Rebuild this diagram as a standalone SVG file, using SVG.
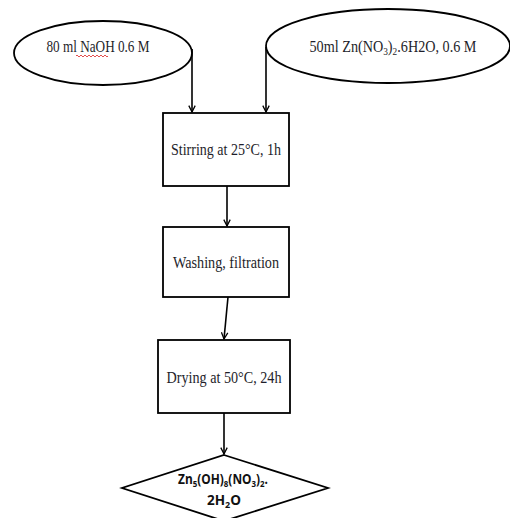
<svg xmlns="http://www.w3.org/2000/svg" width="510" height="518" viewBox="0 0 510 518">
<style>
.shape{fill:#fff;stroke:#000;stroke-width:1.8}
.conn{fill:none;stroke:#000;stroke-width:1.6}
.t{font-family:"Liberation Serif","Times New Roman",serif;font-size:16px;fill:#1e1e2a;text-anchor:middle}
.b{font-family:"Open Sans","Liberation Sans",Arial,sans-serif;font-size:13.5px;font-weight:bold;fill:#111;text-anchor:middle}
.sub{font-size:9px;baseline-shift:-3px}
.sub2{font-size:10.5px;baseline-shift:-3px}
</style>
<defs>
<marker id="arr" viewBox="0 0 10 10" refX="9" refY="5" markerWidth="8" markerHeight="8" markerUnits="userSpaceOnUse" orient="auto">
<path d="M1,1 L9,5 L1,9" fill="none" stroke="#000" stroke-width="1.6"/>
</marker>
</defs>
<rect width="510" height="518" fill="#fff"/>
<g id="connectors">
<path class="conn" d="M192,49 L192,112" marker-end="url(#arr)"/>
<path class="conn" d="M266,47 L266,112" marker-end="url(#arr)"/>
<path class="conn" d="M227,186 L227,226" marker-end="url(#arr)"/>
<path class="conn" d="M228,297 L224,339" marker-end="url(#arr)"/>
<path class="conn" d="M224,413 L224,454" marker-end="url(#arr)"/>
</g>
<g id="naoh">
<ellipse class="shape" cx="103" cy="53" rx="89" ry="32"/>
<text class="t" x="98" y="52" textLength="103" lengthAdjust="spacingAndGlyphs">80 ml NaOH 0.6 M</text>
<path d="M76,56 q1,-2 2,0 t2,0 t2,0 t2,0 t2,0 t2,0 t2,0 t2,0 t2,0 t2,0 t2,0 t2,0 t2,0 t2,0 t2,0 t2,0" fill="none" stroke="#d22" stroke-width="0.8"/>
</g>
<g id="zn">
<ellipse class="shape" cx="388" cy="46" rx="122" ry="37"/>
<text class="t" x="393" y="52" textLength="167" lengthAdjust="spacingAndGlyphs">50ml Zn(NO<tspan class="sub2">3</tspan>)<tspan class="sub2">2</tspan>.6H2O, 0.6 M</text>
</g>
<g id="stirring">
<rect class="shape" x="163" y="113" width="126" height="73"/>
<text class="t" x="226" y="155" textLength="110" lengthAdjust="spacingAndGlyphs">Stirring at 25°C, 1h</text>
</g>
<g id="washing">
<rect class="shape" x="163" y="227" width="126" height="70"/>
<text class="t" x="226" y="268" textLength="106" lengthAdjust="spacingAndGlyphs">Washing, filtration</text>
</g>
<g id="drying">
<rect class="shape" x="158" y="340" width="132" height="73"/>
<text class="t" x="224" y="383" textLength="115" lengthAdjust="spacingAndGlyphs">Drying at 50°C, 24h</text>
</g>
<g id="product">
<path class="shape" d="M224,455 L328,488 L224,521 L122,488 Z"/>
<text class="b" x="223" y="484" textLength="90" lengthAdjust="spacingAndGlyphs">Zn<tspan class="sub">5</tspan>(OH)<tspan class="sub">8</tspan>(NO<tspan class="sub">3</tspan>)<tspan class="sub">2</tspan>.</text>
<text class="b" x="224" y="505">2H<tspan class="sub">2</tspan>O</text>
</g>
</svg>
